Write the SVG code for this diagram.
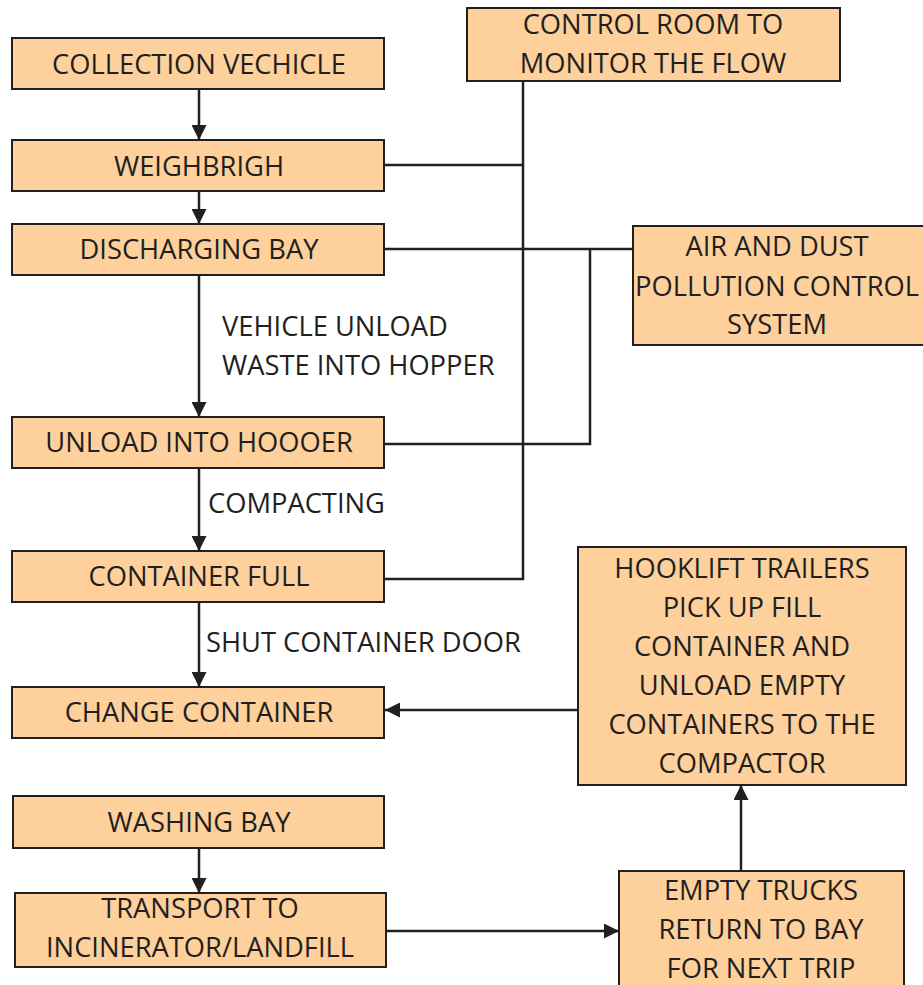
<svg xmlns="http://www.w3.org/2000/svg" width="923" height="985" viewBox="0 0 923 985">
  <style>
    .box { fill: #FDD09C; stroke: #231F20; stroke-width: 2; }
    .lbl { font-family: "Open Sans", "Noto Sans", sans-serif; font-size: 27.3px; fill: #231F20; text-anchor: middle; }
    .note { font-family: "Open Sans", "Noto Sans", sans-serif; font-size: 27.3px; fill: #231F20; }
    .wire { fill: none; stroke: #231F20; stroke-width: 2.5; }
    .flow { fill: none; stroke: #231F20; stroke-width: 2.5; marker-end: url(#head); }
  </style>
  <defs>
    <marker id="head" viewBox="0 0 10 10" refX="10" refY="5" markerUnits="userSpaceOnUse" markerWidth="15" markerHeight="15" orient="auto">
      <path d="M0,0 L10,5 L0,10 Z" fill="#231F20"/>
    </marker>
  </defs>
  <rect width="923" height="985" fill="#FFFFFF"/>

  <!-- connectors -->
  <g id="connectors">
    <path class="flow" d="M199,89 V140"/>
    <path class="flow" d="M199,191 V224"/>
    <path class="flow" d="M199,275 V417"/>
    <path class="flow" d="M199,468 V551"/>
    <path class="flow" d="M199,602 V687"/>
    <path class="flow" d="M199,848 V893"/>
    <path class="flow" d="M386,931 H619"/>
    <path class="flow" d="M741,871 V785"/>
    <path class="flow" d="M578,710 H385"/>
    <!-- control room bus -->
    <path class="wire" d="M523,81 V579 H385"/>
    <path class="wire" d="M385,165 H523"/>
    <!-- air and dust bus -->
    <path class="wire" d="M385,249 H633"/>
    <path class="wire" d="M590,249 V444 H385"/>
  </g>

  <g id="collection">
    <rect class="box" x="12" y="38" width="372" height="51"/>
    <text class="lbl" x="199" y="74">COLLECTION VECHICLE</text>
  </g>
  <g id="weighbridge">
    <rect class="box" x="12" y="140" width="372" height="51"/>
    <text class="lbl" x="199" y="176">WEIGHBRIGH</text>
  </g>
  <g id="discharging">
    <rect class="box" x="12" y="224" width="372" height="51"/>
    <text class="lbl" x="199" y="259">DISCHARGING BAY</text>
  </g>
  <g id="unload">
    <rect class="box" x="12" y="417" width="372" height="51"/>
    <text class="lbl" x="199" y="452">UNLOAD INTO HOOOER</text>
  </g>
  <g id="container-full">
    <rect class="box" x="12" y="551" width="372" height="51"/>
    <text class="lbl" x="199" y="586">CONTAINER FULL</text>
  </g>
  <g id="change-container">
    <rect class="box" x="12" y="687" width="372" height="51"/>
    <text class="lbl" x="199" y="722">CHANGE CONTAINER</text>
  </g>
  <g id="washing">
    <rect class="box" x="13" y="796" width="371" height="52"/>
    <text class="lbl" x="199" y="832">WASHING BAY</text>
  </g>
  <g id="transport">
    <rect class="box" x="15" y="893" width="371" height="74"/>
    <text class="lbl" x="200" y="918">TRANSPORT TO</text>
    <text class="lbl" x="200" y="957">INCINERATOR/LANDFILL</text>
  </g>
  <g id="control-room">
    <rect class="box" x="467" y="8" width="373" height="73"/>
    <text class="lbl" x="653" y="34">CONTROL ROOM TO</text>
    <text class="lbl" x="653" y="73">MONITOR THE FLOW</text>
  </g>
  <g id="air-dust">
    <rect class="box" x="633" y="226" width="292" height="119"/>
    <text class="lbl" x="777" y="256">AIR AND DUST</text>
    <text class="lbl" x="777" y="296">POLLUTION CONTROL</text>
    <text class="lbl" x="777" y="334">SYSTEM</text>
  </g>
  <g id="hooklift">
    <rect class="box" x="578" y="547" width="328" height="238"/>
    <text class="lbl" x="742" y="578">HOOKLIFT TRAILERS</text>
    <text class="lbl" x="742" y="617">PICK UP FILL</text>
    <text class="lbl" x="742" y="656">CONTAINER AND</text>
    <text class="lbl" x="742" y="695">UNLOAD EMPTY</text>
    <text class="lbl" x="742" y="734">CONTAINERS TO THE</text>
    <text class="lbl" x="742" y="773">COMPACTOR</text>
  </g>
  <g id="empty-trucks">
    <rect class="box" x="619" y="871" width="285" height="130"/>
    <text class="lbl" x="761" y="900">EMPTY TRUCKS</text>
    <text class="lbl" x="761" y="939">RETURN TO BAY</text>
    <text class="lbl" x="761" y="978">FOR NEXT TRIP</text>
  </g>

  <!-- edge notes -->
  <g id="notes">
    <text class="note" x="222" y="336">VEHICLE UNLOAD</text>
    <text class="note" x="222" y="375">WASTE INTO HOPPER</text>
    <text class="note" x="208" y="513">COMPACTING</text>
    <text class="note" x="206" y="652">SHUT CONTAINER DOOR</text>
  </g>
</svg>
